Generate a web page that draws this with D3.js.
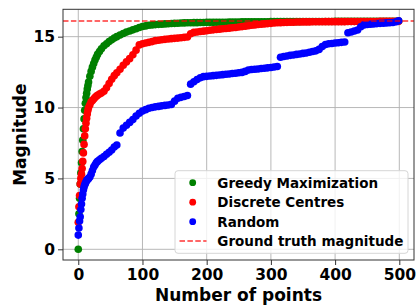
<!DOCTYPE html>
<html>
<head>
<meta charset="utf-8">
<script src="https://cdn.jsdelivr.net/npm/d3@7"></script>
<style>
  body { margin: 0; background: #fff; }
  svg { display: block; font-family: "DejaVu Sans", sans-serif; font-weight: bold; }
</style>
</head>
<body>
<div id="chart"></div>
<script>
// number of points at which each curve was sampled
var points = [0, 1, 2, 3, 4, 5, 6, 7, 8, 9, 10, 11, 12, 13, 14, 15, 16,
	18, 20, 22, 24, 26, 28, 30, 33, 36, 40, 44, 48, 52, 56, 60,
	65, 70, 75, 80, 85, 90, 95, 100, 105, 110, 115, 120, 125, 130, 135, 140, 145, 150,
	155, 160, 165, 170, 175, 180, 185, 190, 195, 200, 205, 210, 215, 220, 225, 230, 235, 240,
	245, 250, 255, 260, 265, 270, 275, 280, 285, 290, 295, 300, 305, 310, 315, 320, 325, 330,
	335, 340, 345, 350, 355, 360, 365, 370, 375, 380, 385, 390, 395, 400, 405, 410, 415, 420,
	425, 430, 435, 440, 445, 450, 455, 460, 465, 470, 475, 480, 485, 490, 495, 499];

var greedy = [0, 2.5, 3.6, 4.6, 5.4, 6.1, 6.9, 7.7, 8.5, 9.2, 9.8, 10.3, 10.7, 11.0, 11.3, 11.55, 11.8,
	12.2, 12.55, 12.85, 13.1, 13.35, 13.55, 13.75, 13.95, 14.15, 14.35, 14.5, 14.65, 14.78, 14.9, 15.0,
	15.12, 15.22, 15.32, 15.4, 15.48, 15.56, 15.65, 15.72, 15.76, 15.8, 15.83, 15.85, 15.87, 15.88, 15.9, 15.91, 15.93, 15.94,
	15.95, 15.96, 15.97, 15.98, 15.98, 15.99, 15.99, 16.0, 16.0, 16.01, 16.01, 16.01, 16.02, 16.02, 16.02, 16.02, 16.03, 16.03,
	16.03, 16.03, 16.04, 16.04, 16.04, 16.04, 16.05, 16.05, 16.05, 16.05, 16.05, 16.06, 16.06, 16.06, 16.06, 16.06, 16.06, 16.06,
	16.06, 16.06, 16.06, 16.07, 16.07, 16.07, 16.07, 16.07, 16.07, 16.07, 16.07, 16.07, 16.07, 16.08, 16.08, 16.08, 16.08, 16.08,
	16.08, 16.08, 16.08, 16.08, 16.08, 16.09, 16.09, 16.09, 16.09, 16.09, 16.09, 16.09, 16.09, 16.09, 16.09, 16.1];

var discrete = [1.9, 3.0, 3.8, 4.6, 5.0, 5.3, 5.7, 6.2, 6.8, 7.4, 8.0, 8.5, 8.9, 9.25, 9.55, 9.8, 10.0,
	10.2, 10.4, 10.5, 10.6, 10.7, 10.8, 10.87, 10.95, 11.02, 11.15, 11.4, 11.7, 12.0, 12.25, 12.45,
	12.7, 12.98, 13.22, 13.45, 13.72, 14.05, 14.42, 14.5, 14.55, 14.6, 14.65, 14.72, 14.75, 14.78, 14.81, 14.84, 14.86, 14.88,
	14.9, 14.92, 14.95, 14.98, 15.2, 15.3, 15.33, 15.36, 15.39, 15.42, 15.45, 15.48, 15.5, 15.53, 15.56, 15.58, 15.6, 15.63,
	15.65, 15.68, 15.71, 15.74, 15.77, 15.8, 15.83, 15.86, 15.88, 15.9, 15.92, 15.94, 15.96, 15.98, 15.99, 16.0, 16.01, 16.02,
	16.02, 16.03, 16.03, 16.04, 16.04, 16.04, 16.05, 16.05, 16.05, 16.05, 16.06, 16.06, 16.06, 16.06, 16.06, 16.06, 16.06, 16.07,
	16.07, 16.07, 16.07, 16.07, 16.07, 16.07, 16.07, 16.07, 16.07, 16.08, 16.08, 16.08, 16.08, 16.08, 16.08, 16.08];

var random = [1.0, 1.5, 2.0, 2.3, 2.8, 3.2, 3.6, 3.9, 4.2, 4.4, 4.55, 4.65, 4.75, 4.85, 4.9, 4.95, 5.0,
	5.1, 5.3, 5.55, 5.8, 5.95, 6.1, 6.2, 6.32, 6.42, 6.55, 6.7, 6.85, 7.0, 7.22, 7.35,
	8.2, 8.55, 8.75, 8.95, 9.15, 9.4, 9.6, 9.75, 9.85, 9.95, 10.0, 10.05, 10.08, 10.12, 10.15, 10.18, 10.22, 10.45,
	10.65, 10.72, 10.78, 10.85, 11.65, 11.82, 11.98, 12.1, 12.18, 12.2, 12.22, 12.25, 12.27, 12.3, 12.32, 12.35, 12.37, 12.4,
	12.42, 12.45, 12.48, 12.55, 12.65, 12.68, 12.7, 12.72, 12.75, 12.77, 12.8, 12.82, 12.86, 12.9, 13.55, 13.6, 13.64, 13.68,
	13.71, 13.75, 13.78, 13.82, 13.85, 13.9, 13.95, 14.0, 14.1, 14.3, 14.45, 14.5, 14.52, 14.55, 14.57, 14.6, 14.62, 15.28,
	15.33, 15.4, 15.47, 15.7, 15.83, 15.86, 15.88, 15.9, 15.92, 15.94, 15.95, 15.97, 15.98, 16.0, 16.05, 16.12];

var groundTruth = 16.1;

var seriesNames = ["Greedy Maximization", "Discrete Centres", "Random", "Ground truth magnitude"];
var seriesColors = ["green", "red", "blue", "red"];
var xTicks = [0, 100, 200, 300, 400, 500];
var yTicks = [0, 5, 10, 15];

var w = 417;
var h = 307;
var axLeft = 63, axRight = 414, axTop = 9.3, axBottom = 260;

var svg = d3.select("#chart")
	.append("svg")
	.attr("width", w)
	.attr("height", h);

var xScale = d3.scaleLinear()
	.domain([-23.8, 522.9])
	.range([axLeft, axRight]);

var yScale = d3.scaleLinear()
	.domain([-0.755, 16.93])
	.range([axBottom, axTop]);

// grid
svg.append("g")
	.selectAll("line")
	.data(xTicks)
	.enter()
	.append("line")
	.attr("x1", d => xScale(d))
	.attr("x2", d => xScale(d))
	.attr("y1", axTop)
	.attr("y2", axBottom)
	.attr("stroke", "#b0b0b0")
	.attr("stroke-width", 0.9);

svg.append("g")
	.selectAll("line")
	.data(yTicks)
	.enter()
	.append("line")
	.attr("y1", d => yScale(d))
	.attr("y2", d => yScale(d))
	.attr("x1", axLeft)
	.attr("x2", axRight)
	.attr("stroke", "#b0b0b0")
	.attr("stroke-width", 0.9);

// scatter, drawn in the same order as the legend
var allSeries = [greedy, discrete, random];
allSeries.forEach(function (values, k) {
	svg.append("g")
		.selectAll("circle")
		.data(points)
		.enter()
		.append("circle")
		.attr("cx", d => xScale(d))
		.attr("cy", (d, i) => yScale(values[i]))
		.attr("r", 3.8)
		.attr("fill", seriesColors[k]);
});

// ground truth
svg.append("line")
	.attr("x1", axLeft)
	.attr("x2", axRight)
	.attr("y1", yScale(groundTruth))
	.attr("y2", yScale(groundTruth))
	.attr("stroke", "red")
	.attr("stroke-opacity", 0.8)
	.attr("stroke-width", 1.5)
	.attr("stroke-dasharray", "5.5,2.4");

// axes
var xAxis = d3.axisBottom(xScale)
	.tickValues(xTicks)
	.tickSize(5)
	.tickPadding(4);

var yAxis = d3.axisLeft(yScale)
	.tickValues(yTicks)
	.tickSize(5)
	.tickPadding(3);

var gx = svg.append("g")
	.attr("transform", "translate(0," + axBottom + ")")
	.call(xAxis);
var gy = svg.append("g")
	.attr("transform", "translate(" + axLeft + ",0)")
	.call(yAxis);

[gx, gy].forEach(function (g) {
	g.select(".domain").remove();
	g.selectAll(".tick line").attr("stroke", "#333").attr("stroke-width", 1);
	g.selectAll(".tick text")
		.attr("fill", "#000")
		.style("font-family", "DejaVu Sans")
		.style("font-weight", "bold")
		.style("font-size", "15.5px");
});

// frame
svg.append("rect")
	.attr("x", axLeft)
	.attr("y", axTop)
	.attr("width", axRight - axLeft)
	.attr("height", axBottom - axTop)
	.attr("fill", "none")
	.attr("stroke", "#333")
	.attr("stroke-width", 1);

// axis labels
svg.append("text")
	.attr("x", (axLeft + axRight) / 2)
	.attr("y", 301)
	.attr("text-anchor", "middle")
	.style("font-size", "17px")
	.text("Number of points");

svg.append("text")
	.attr("transform", "translate(26," + ((axTop + axBottom) / 2) + ") rotate(-90)")
	.attr("text-anchor", "middle")
	.style("font-size", "17px")
	.text("Magnitude");

// legend
var legend = svg.append("g");
legend.append("rect")
	.attr("x", 175)
	.attr("y", 170.7)
	.attr("width", 233)
	.attr("height", 82.6)
	.attr("rx", 3)
	.attr("fill", "white")
	.attr("fill-opacity", 0.8)
	.attr("stroke", "#d6d6d6")
	.attr("stroke-width", 1);

var rowY = [182.7, 202.2, 221.7, 241.0];
seriesNames.forEach(function (name, i) {
	if (i < 3) {
		legend.append("circle")
			.attr("cx", 192.7)
			.attr("cy", rowY[i])
			.attr("r", 3.4)
			.attr("fill", seriesColors[i]);
	} else {
		legend.append("line")
			.attr("x1", 179.5)
			.attr("x2", 206.5)
			.attr("y1", rowY[i])
			.attr("y2", rowY[i])
			.attr("stroke", "red")
			.attr("stroke-opacity", 0.8)
			.attr("stroke-width", 1.5)
			.attr("stroke-dasharray", "5.5,2.4");
	}
	legend.append("text")
		.attr("x", 217.3)
		.attr("y", rowY[i] + 4.9)
		.style("font-size", "13.5px")
		.text(name);
});
</script>
</body>
</html>
